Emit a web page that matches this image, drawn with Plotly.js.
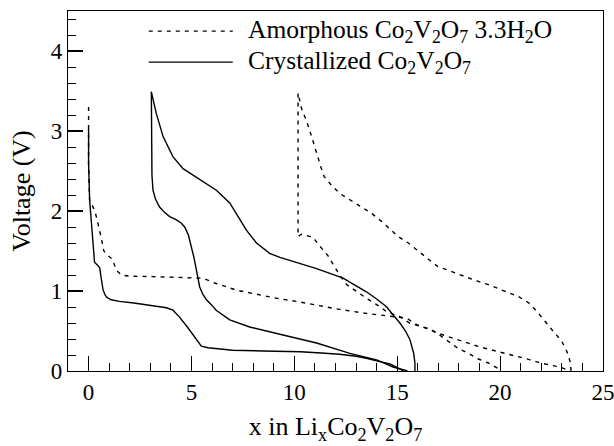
<!DOCTYPE html>
<html>
<head>
<meta charset="utf-8">
<script src="https://cdn.plot.ly/plotly-3.0.1.min.js"></script>
<style>html,body{margin:0;padding:0;background:#fff;}#chart{width:614px;height:446px;}</style>
</head>
<body>
<div id="chart"></div>
<script>
// Crystallized Co2V2O7 — first discharge
const cr1X = [0, 0, 0.05, 0.13, 0.21, 0.29, 0.45, 0.54, 0.62, 0.70, 0.80, 0.89, 1.1, 1.5, 2.2, 2.8, 3.4, 3.78, 4.1, 4.4, 4.8, 5.08, 5.3, 5.48, 5.8, 6.4, 7.0, 8.5, 10.3, 11.3, 12.2, 13.0, 13.5, 14.1, 14.65, 15.1, 15.3];
const cr1Y = [3.03, 2.6, 2.14, 1.89, 1.64, 1.36, 1.32, 1.29, 1.15, 1.02, 0.95, 0.92, 0.89, 0.87, 0.85, 0.83, 0.81, 0.79, 0.76, 0.68, 0.55, 0.45, 0.37, 0.31, 0.29, 0.275, 0.26, 0.25, 0.24, 0.225, 0.21, 0.185, 0.16, 0.12, 0.09, 0.03, 0];
// Crystallized — second discharge
const cr2X = [3.05, 3.05, 3.08, 3.13, 3.25, 3.45, 3.7, 3.94, 4.27, 4.5, 4.67, 4.85, 5.0, 5.12, 5.24, 5.32, 5.40, 5.55, 5.73, 6.0, 6.2, 6.86, 7.83, 9.45, 11.08, 12.7, 14.0, 14.8, 15.5];
const cr2Y = [3.49, 2.8, 2.45, 2.26, 2.15, 2.05, 1.98, 1.93, 1.89, 1.85, 1.80, 1.70, 1.55, 1.42, 1.26, 1.15, 1.05, 0.96, 0.89, 0.82, 0.76, 0.64, 0.55, 0.45, 0.35, 0.22, 0.14, 0.05, 0];
// Crystallized — charge
const crCX = [15.86, 15.86, 15.8, 15.62, 15.4, 15.13, 14.8, 14.49, 14.0, 13.5, 12.9, 12.37, 11.08, 9.94, 9.3, 8.8, 8.16, 7.67, 7.35, 6.86, 6.21, 5.4, 4.59, 4.1, 3.62, 3.29, 3.05];
const crCY = [0, 0.1, 0.22, 0.39, 0.5, 0.60, 0.70, 0.80, 0.90, 0.99, 1.08, 1.16, 1.28, 1.37, 1.42, 1.47, 1.60, 1.76, 1.89, 2.10, 2.26, 2.39, 2.53, 2.68, 2.93, 3.22, 3.49];

// Amorphous Co2V2O7·3.3H2O — first discharge
const am1X = [0, 0, 0.05, 0.29, 0.42, 0.54, 0.65, 0.74, 0.9, 1.15, 1.35, 1.59, 2.0, 3.13, 4.2, 5.24, 5.56, 6.13, 7.19, 8.16, 9.13, 10.1, 11.08, 12.2, 13.5, 14.8, 15.46, 15.95, 16.5, 17.0, 17.57, 18.05, 18.54, 19.03, 19.5, 20.0, 20.5, 20.97, 21.46, 21.95, 22.4, 22.9, 23.4];
const am1Y = [3.3, 2.6, 2.14, 2.01, 1.89, 1.76, 1.62, 1.50, 1.45, 1.40, 1.26, 1.20, 1.185, 1.18, 1.17, 1.16, 1.16, 1.10, 1.01, 0.96, 0.91, 0.87, 0.825, 0.77, 0.72, 0.68, 0.66, 0.58, 0.53, 0.47, 0.42, 0.375, 0.34, 0.30, 0.27, 0.23, 0.20, 0.17, 0.14, 0.10, 0.075, 0.05, 0];
// Amorphous — charge
const amCX = [23.45, 23.4, 23.25, 23.0, 22.6, 22.2, 21.8, 21.4, 20.9, 20.4, 19.92, 19.43, 18.94, 18.46, 17.97, 17.5, 17.0, 16.5, 16.0, 15.54, 15.05, 14.65, 14.24, 13.76, 13.27, 12.78, 12.2, 11.81, 11.45, 11.29, 11.08, 10.84, 10.6, 10.35, 10.18];
const amCY = [0, 0.12, 0.24, 0.37, 0.49, 0.62, 0.74, 0.85, 0.93, 0.98, 1.03, 1.08, 1.12, 1.16, 1.21, 1.26, 1.30, 1.40, 1.50, 1.60, 1.68, 1.78, 1.87, 1.97, 2.05, 2.12, 2.22, 2.32, 2.43, 2.55, 2.74, 2.93, 3.12, 3.28, 3.47];
// Amorphous — second discharge
const am2X = [10.18, 10.18, 10.35, 10.91, 11.24, 11.64, 11.94, 12.2, 12.54, 13.03, 13.5, 14.0, 14.49, 15.13, 15.6, 16.1, 16.6, 17.0, 17.4, 17.97, 18.46, 18.94, 19.43, 19.9, 20.0];
const am2Y = [3.47, 1.68, 1.71, 1.67, 1.56, 1.44, 1.31, 1.20, 1.08, 0.99, 0.91, 0.83, 0.74, 0.68, 0.60, 0.56, 0.52, 0.46, 0.39, 0.28, 0.22, 0.15, 0.10, 0.03, 0];

const seriesNames = ['Amorphous Co<sub>2</sub>V<sub>2</sub>O<sub>7</sub> 3.3H<sub>2</sub>O', 'Crystallized Co<sub>2</sub>V<sub>2</sub>O<sub>7</sub>'];
const xTitle = 'x in Li<sub>x</sub>Co<sub>2</sub>V<sub>2</sub>O<sub>7</sub>';
const yTitle = 'Voltage (V)';
const xTicks = [0, 5, 10, 15, 20, 25];
const yTicks = [0, 1, 2, 3, 4];

const FONT = 'Liberation Serif';
const dashed = {color: '#000', width: 1.4, dash: '4px,5px'};
const solid = {color: '#000', width: 1.4};

const traces = [
  {x: am1X, y: am1Y, mode: 'lines', line: dashed, name: seriesNames[0], showlegend: false},
  {x: amCX, y: amCY, mode: 'lines', line: dashed, showlegend: false},
  {x: am2X, y: am2Y, mode: 'lines', line: dashed, showlegend: false},
  {x: cr1X, y: cr1Y, mode: 'lines', line: solid, name: seriesNames[1], showlegend: false},
  {x: cr2X, y: cr2Y, mode: 'lines', line: solid, showlegend: false},
  {x: crCX, y: crCY, mode: 'lines', line: solid, showlegend: false}
];

const layout = {
  width: 614, height: 446,
  margin: {l: 68, r: 11, t: 11, b: 75},
  paper_bgcolor: '#fff', plot_bgcolor: '#fff',
  font: {family: FONT, color: '#000', size: 22},
  showlegend: false,
  xaxis: {
    range: [-1, 25], tickvals: xTicks, ticktext: xTicks.map(String),
    ticks: 'inside', ticklen: 15, tickwidth: 1.2, tickcolor: '#000',
    ticklabeloverflow: 'allow',
    minor: {dtick: 1, ticks: 'inside', ticklen: 8, tickwidth: 1, tickcolor: '#000'},
    showline: true, linecolor: '#000', linewidth: 1.2, mirror: true,
    showgrid: false, zeroline: false,
    tickfont: {family: FONT, size: 23, color: '#000'},
    title: {text: xTitle, font: {family: FONT, size: 26, color: '#000'}, standoff: 13}
  },
  yaxis: {
    range: [0, 4.5], tickvals: yTicks, ticktext: yTicks.map(String),
    ticks: 'inside', ticklen: 15, tickwidth: 1.2, tickcolor: '#000',
    minor: {dtick: 0.2, ticks: 'inside', ticklen: 8, tickwidth: 1, tickcolor: '#000'},
    showline: true, linecolor: '#000', linewidth: 1.2, mirror: true,
    showgrid: false, zeroline: false,
    tickfont: {family: FONT, size: 23, color: '#000'},
    title: {text: yTitle, font: {family: FONT, size: 26, color: '#000'}, standoff: 12}
  },
  shapes: [
    {type: 'line', xref: 'paper', yref: 'paper', x0: 0.151, x1: 0.308, y0: 0.944, y1: 0.944, line: dashed},
    {type: 'line', xref: 'paper', yref: 'paper', x0: 0.151, x1: 0.308, y0: 0.858, y1: 0.858, line: solid}
  ],
  annotations: [
    {xref: 'paper', yref: 'paper', x: 0.333, y: 0.944, xanchor: 'left', yanchor: 'middle', showarrow: false, text: seriesNames[0], font: {family: FONT, size: 25.5, color: '#000'}},
    {xref: 'paper', yref: 'paper', x: 0.333, y: 0.858, xanchor: 'left', yanchor: 'middle', showarrow: false, text: seriesNames[1], font: {family: FONT, size: 25.5, color: '#000'}}
  ]
};

Plotly.newPlot('chart', traces, layout, {displayModeBar: false, staticPlot: true});
</script>
</body>
</html>
